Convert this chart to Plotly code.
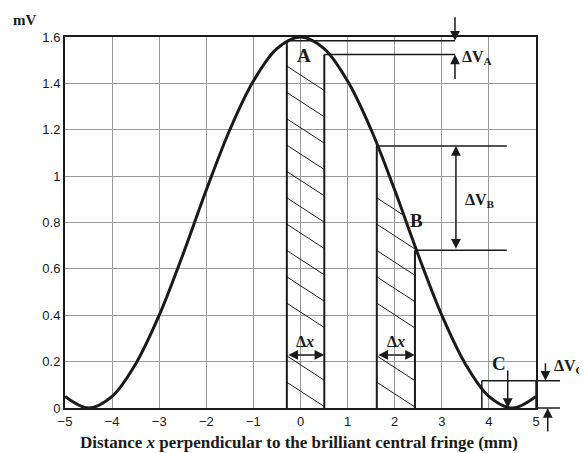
import numpy as np
import plotly.graph_objects as go

# ---- data ----
x_mm = [-5, -4.5, -4, -3.5, -3, -2.5, -2, -1.5, -1, -0.5, 0,
        0.5, 1, 1.5, 2, 2.5, 3, 3.5, 4, 4.5, 5]
v_mV = [0.05, 0.0, 0.05, 0.19, 0.40, 0.66, 0.94, 1.20, 1.41, 1.55, 1.60,
        1.55, 1.41, 1.20, 0.94, 0.66, 0.40, 0.19, 0.05, 0.0, 0.05]
x_ticks = [-5, -4, -3, -2, -1, 0, 1, 2, 3, 4, 5]
y_ticks = [0, 0.2, 0.4, 0.6, 0.8, 1.0, 1.2, 1.4, 1.6]

# strips (x range) and voltage levels
strip_A = [-0.29, 0.505]
strip_B = [1.62, 2.43]
strip_C = [3.85, 5.0]
levels_A = [1.584, 1.525]
levels_B = [1.13, 0.68]
level_C = [0.118, 0.0]

XMIN, XMAX, YMAX = -5, 5, 1.6
BLACK = "#1a1a1a"
SERIF = "Liberation Serif, Times New Roman, serif"
SANS = "Liberation Sans, Arial, sans-serif"


def px(x):
    return (x - XMIN) / (XMAX - XMIN)


def py(v):
    return v / YMAX


fig = go.Figure()

# hatching inside strips A and B, clipped under the curve, gap at the dx label
slope, spacing, base = 0.132, 0.1136, 0.452
gap = (0.28, 0.40)
hx, hy = [], []
for x0, x1 in (strip_A, strip_B):
    xs = np.linspace(x0, x1, 400)
    cur = np.interp(xs, x_mm, v_mV)
    for k in range(-3, 10):
        c = base + k * spacing
        if gap[0] <= c <= gap[1]:
            continue
        ys = c - slope * (xs - x0)
        m = (ys >= 0) & (ys <= cur - 0.01)
        if m.sum() < 3:
            continue
        idx = np.where(m)[0]
        if xs[idx[-1]] - xs[idx[0]] < 0.38:
            continue
        hx += [xs[idx[0]], xs[idx[-1]], None]
        hy += [ys[idx[0]], ys[idx[-1]], None]
fig.add_trace(go.Scatter(x=hx, y=hy, mode="lines",
                         line=dict(color=BLACK, width=1), hoverinfo="skip"))

# curve
fig.add_trace(go.Scatter(x=x_mm, y=v_mV, mode="lines",
                         line=dict(color=BLACK, width=3, shape="spline")))

shapes = []


def seg(x0, y0, x1, y1, w=2):
    shapes.append(dict(type="line", xref="paper", yref="paper",
                       x0=px(x0), y0=py(y0), x1=px(x1), y1=py(y1),
                       line=dict(color=BLACK, width=w)))


# strip edges
seg(strip_A[0], 0, strip_A[0], levels_A[0])
seg(strip_A[1], 0, strip_A[1], levels_A[1])
seg(strip_B[0], 0, strip_B[0], levels_B[0])
seg(strip_B[1], 0, strip_B[1], levels_B[1])
seg(strip_C[0], 0, strip_C[0], level_C[0], 1.5)
seg(strip_C[1], 0, strip_C[1], level_C[0], 1.5)

# level lines
xa_end, xb_end, xc_end = 3.28, 4.38, 5.51
seg(strip_A[0], levels_A[0], xa_end, levels_A[0], 1.5)
seg(strip_A[1], levels_A[1], xa_end, levels_A[1], 1.5)
seg(strip_B[0], levels_B[0], xb_end, levels_B[0], 1.5)
seg(strip_B[1], levels_B[1], xb_end, levels_B[1], 1.5)
seg(strip_C[0], level_C[0], xc_end, level_C[0], 1.5)
seg(strip_C[1], level_C[1], xc_end, level_C[1], 1.5)

ann = []


def arrow(x, y, ax, ay, both=False, ref="pixel"):
    d = dict(text="", showarrow=True, arrowhead=2, arrowsize=1.3, arrowwidth=1.5,
             arrowcolor=BLACK, standoff=0, startstandoff=0)
    if ref == "pixel":
        d.update(xref="paper", yref="paper", x=px(x), y=py(y), ax=ax, ay=ay)
    else:
        d.update(xref="x", yref="y", x=x, y=y,
                 axref="x", ayref="y", ax=ax, ay=ay)
    if both:
        d.update(arrowside="end+start", startarrowhead=2, startarrowsize=1.3)
    ann.append(d)


def label(x, y, text, size=16, font=SERIF):
    ann.append(dict(xref="paper", yref="paper", x=px(x), y=py(y), text=text,
                    showarrow=False, font=dict(family=font, size=size, color=BLACK),
                    xanchor="center", yanchor="middle"))


# delta V_A arrows
arrow(xa_end, levels_A[0], 0, -25)
arrow(xa_end, levels_A[1], 0, 26)
# delta V_B double arrow
arrow(3.3, levels_B[0], 3.3, levels_B[1], both=True, ref="data")
# delta V_C arrows
arrow(5.2, level_C[0], 0, -19)
arrow(5.25, level_C[1], 0, 25)
# arrow from C to the minimum
arrow(4.4, 0.0, 0, -39)
# delta x arrows
dx_level = 0.229
arrow(strip_A[1], dx_level, strip_A[0], dx_level, both=True, ref="data")
arrow(strip_B[1], dx_level, strip_B[0], dx_level, both=True, ref="data")

label(0.07, 1.52, "<b>A</b>", 19)
label(2.47, 0.81, "<b>B</b>", 19)
label(4.21, 0.19, "<b>C</b>", 19)
label(3.75, 1.51, "<b>ΔV<sub>A</sub></b>", 16)
label(3.82, 0.895, "<b>ΔV<sub>B</sub></b>", 16)
label(5.7, 0.177, "<b>ΔV<sub>C</sub></b>", 16)
label(0.1, 0.285, "<b>Δ<i>x</i></b>", 16)
label(2.02, 0.285, "<b>Δ<i>x</i></b>", 16)

ann.append(dict(xref="paper", yref="paper", x=-0.087, y=1.046, text="<b>mV</b>",
                showarrow=False, font=dict(family=SERIF, size=15, color=BLACK),
                xanchor="center", yanchor="middle"))
ann.append(dict(xref="paper", yref="paper", x=0.497, y=-0.094,
                text="<b>Distance <i>x</i> perpendicular to the brilliant central fringe (mm)</b>",
                showarrow=False, font=dict(family=SERIF, size=17, color=BLACK),
                xanchor="center", yanchor="middle"))

fig.update_layout(
    width=587, height=453,
    margin=dict(l=57, r=59, t=29, b=53),
    paper_bgcolor="white", plot_bgcolor="white",
    showlegend=False,
    shapes=shapes, annotations=ann,
    xaxis=dict(range=[XMIN, XMAX], tickvals=x_ticks, showgrid=True,
               gridcolor="#999999", gridwidth=1, zeroline=False,
               showline=True, linecolor=BLACK, linewidth=2, mirror=True,
               ticks="", tickfont=dict(family=SANS, size=13, color=BLACK)),
    yaxis=dict(range=[0, YMAX], tickvals=y_ticks, showgrid=True,
               gridcolor="#999999", gridwidth=1, zeroline=False,
               showline=True, linecolor=BLACK, linewidth=2, mirror=True,
               ticks="", tickfont=dict(family=SANS, size=13, color=BLACK)),
)

fig.write_html("out.html")
